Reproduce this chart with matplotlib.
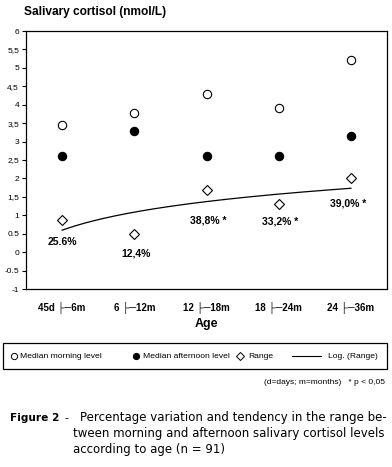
import numpy as np
import matplotlib
matplotlib.use("Agg")
import matplotlib.pyplot as plt
from matplotlib.lines import Line2D
from matplotlib.patches import Rectangle

categories = ["45d \u251c\u25006m", "6 \u251c\u250012m", "12 \u251c\u250018m", "18 \u251c\u250024m", "24 \u251c\u250036m"]
morning = [3.45, 3.78, 4.30, 3.92, 5.20]
afternoon = [2.60, 3.30, 2.62, 2.62, 3.15]
range_vals = [0.88, 0.48, 1.68, 1.30, 2.02]
pct_labels = ["25.6%", "12,4%", "38,8% *", "33,2% *", "39,0% *"]
yticks = [6, 5.5, 5, 4.5, 4, 3.5, 3, 2.5, 2, 1.5, 1, 0.5, 0, -0.5, -1]
ytick_labels = ["6", "5,5", "5", "4,5", "4", "3,5", "3", "2,5", "2", "1,5", "1", "0.5", "0", "-0.5", "-1"]
legend_labels = ["Median morning level", "Median afternoon level", "Range", "Log. (Range)"]

W, H = 392, 467
fig = plt.figure(figsize=(W / 100, H / 100), dpi=100)
plt.rcParams['font.family'] = ['Liberation Sans', 'DejaVu Sans']

def fx(px):
    return px / W

def fy(py):
    return 1 - py / H

L, R, T, B = 26, 387, 31, 289
ax = fig.add_axes([fx(L), fy(B), (R - L) / W, (B - T) / H])

x = np.arange(len(categories))
st_m = dict(linestyle='none', marker='o', ms=6, mfc='white', mec='black', mew=0.8)
st_a = dict(linestyle='none', marker='o', ms=6, mfc='black', mec='black', mew=0.8)
st_r = dict(linestyle='none', marker='D', ms=5, mfc='white', mec='black', mew=0.8)
ax.plot(x, morning, **st_m)
ax.plot(x, afternoon, **st_a)
ax.plot(x, range_vals, **st_r)

# logarithmic trend of the range
lx = np.log(x + 1)
a, b = np.polyfit(lx, range_vals, 1)
xs = np.linspace(0, len(categories) - 1, 200)
ax.plot(xs, a * np.log(xs + 1) + b, color='black', lw=0.9)

# percentage labels (offsets relative to range markers)
offsets = [(0.0, -0.60), (0.02, -0.53), (0.02, -0.81), (0.02, -0.48), (-0.04, -0.69)]
for i, lab in enumerate(pct_labels):
    dx, dy = offsets[i]
    ax.text(x[i] + dx, range_vals[i] + dy, lab, ha='center', va='center',
            fontsize=7.5, fontweight='bold')

ax.set_xlim(-0.5, len(categories) - 0.5)
ax.set_ylim(-1, 6)
ax.set_yticks(yticks)
ax.set_yticklabels(ytick_labels, fontsize=6)
ax.set_xticks(x)
ax.set_xticklabels(categories, fontsize=7, fontweight='bold')
ax.tick_params(axis='x', length=0, pad=9)
ax.tick_params(axis='y', length=3, width=0.8, pad=2, direction='out')
for s in ax.spines.values():
    s.set_linewidth(0.9)

fig.text(fx((L + R) / 2), fy(324), "Age", ha='center', va='center', fontsize=9, fontweight='bold')
fig.text(fx(24), fy(12), "Salivary cortisol (nmol/L)", ha='left', va='center', fontsize=8.6, fontweight='bold')

# legend box drawn manually
fig.add_artist(Rectangle((fx(3), fy(369)), (387 - 3) / W, (369 - 343) / H, transform=fig.transFigure,
                         fill=False, edgecolor='black', lw=0.9))
ly = fy(356)
fig.add_artist(Line2D([fx(14)], [ly], transform=fig.transFigure, **{**st_m, 'ms': 4.5, 'mew': 0.7}))
fig.add_artist(Line2D([fx(136)], [ly], transform=fig.transFigure, **{**st_a, 'ms': 4.5, 'mew': 0.7}))
fig.add_artist(Line2D([fx(240)], [ly], transform=fig.transFigure, **{**st_r, 'ms': 4.2, 'mew': 0.7}))
fig.add_artist(Line2D([fx(292), fx(321)], [ly, ly], transform=fig.transFigure, color='black', lw=0.8))
for px, lab in zip([20, 143, 248, 328], legend_labels):
    fig.text(fx(px), ly, lab, ha='left', va='center', fontsize=6.1)

fig.text(fx(385), fy(383), "(d=days; m=months)   * p < 0,05", ha='right', va='center', fontsize=6)

fig.text(fx(10), fy(418), "Figure 2", ha='left', va='center', fontsize=7.6, fontweight='bold',
         family='DejaVu Sans')
fig.text(fx(64), fy(418), "-", ha='left', va='center', fontsize=8, family='DejaVu Sans')
cap = ["Percentage variation and tendency in the range be-",
       "tween morning and afternoon salivary cortisol levels",
       "according to age (n = 91)"]
for i, line in enumerate(cap):
    fig.text(fx(80 if i == 0 else 73), fy(418 + 16 * i), line, ha='left', va='center',
             fontsize=8.5, family='DejaVu Sans')

fig.savefig("out.png", dpi=100)
